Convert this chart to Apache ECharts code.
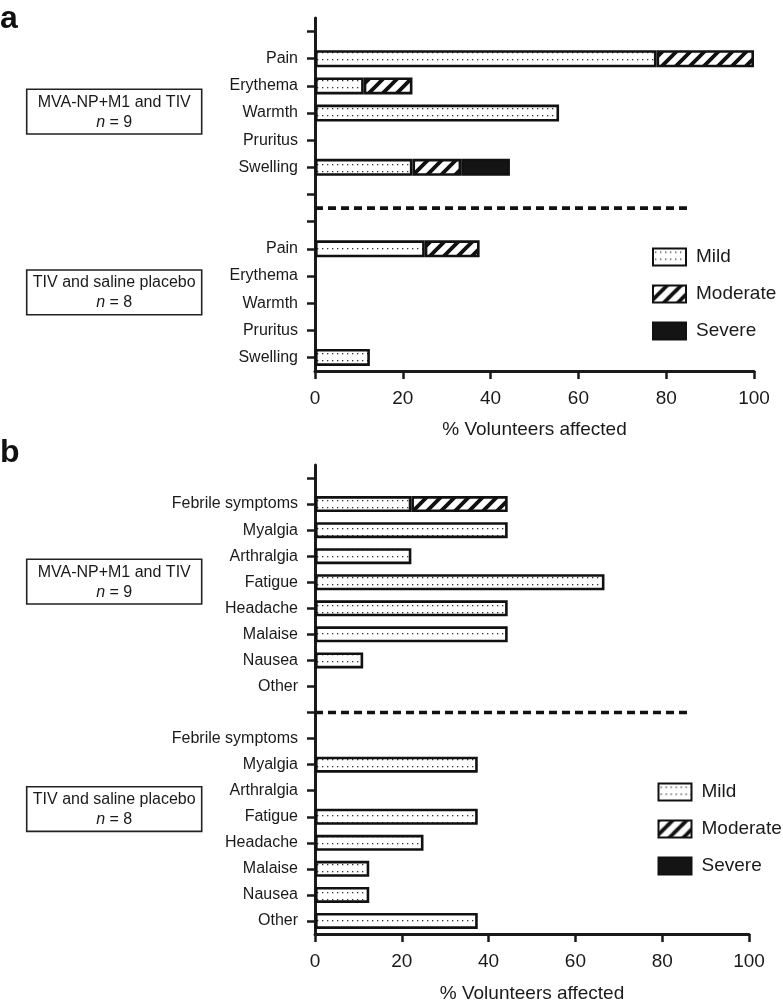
<!DOCTYPE html>
<html><head><meta charset="utf-8">
<script src="https://cdn.jsdelivr.net/npm/echarts@6/dist/echarts.min.js"></script>
<style>html,body{margin:0;padding:0;background:#fff}#c{width:783px;height:1004px}</style>
</head><body><div id="c"></div>
<script>
// ---------- DATA ----------
const localCats = ['Pain', 'Erythema', 'Warmth', 'Pruritus', 'Swelling'];
const localMVA_mild = [77.8, 11.1, 55.6, 0, 22.2];
const localMVA_mod  = [22.2, 11.1, 0, 0, 11.1];
const localMVA_sev  = [0, 0, 0, 0, 11.1];
const localTIV_mild = [25, 0, 0, 0, 12.5];
const localTIV_mod  = [12.5, 0, 0, 0, 0];
const localTIV_sev  = [0, 0, 0, 0, 0];

const sysCats = ['Febrile symptoms', 'Myalgia', 'Arthralgia', 'Fatigue', 'Headache', 'Malaise', 'Nausea', 'Other'];
const sysMVA_mild = [22.2, 44.4, 22.2, 66.7, 44.4, 44.4, 11.1, 0];
const sysMVA_mod  = [22.2, 0, 0, 0, 0, 0, 0, 0];
const sysMVA_sev  = [0, 0, 0, 0, 0, 0, 0, 0];
const sysTIV_mild = [0, 37.5, 0, 37.5, 25, 12.5, 12.5, 37.5];
const sysTIV_mod  = [0, 0, 0, 0, 0, 0, 0, 0];
const sysTIV_sev  = [0, 0, 0, 0, 0, 0, 0, 0];

const xTicks = [0, 20, 40, 60, 80, 100];
const severities = ['Mild', 'Moderate', 'Severe'];
const groupA = ['MVA-NP+M1 and TIV', 'n = 9'];
const groupB = ['TIV and saline placebo', 'n = 8'];
const axisName = '% Volunteers affected';
// dashed separator lines [x, y-position on the hidden index axis]
const sepA = [[0, 7], [85.5, 7]];
const sepB = [[0, 9.5], [86.3, 9.5]];

// ---------- assemble ----------
const catsA = [''].concat(localCats, ['', ''], localCats);
const catsB = [''].concat(sysCats, [''], sysCats);
const joinA = (a, b) => [0].concat(a, [0, 0], b);
const joinB = (a, b) => [0].concat(a, [0], b);
const aMild = joinA(localMVA_mild, localTIV_mild), aMod = joinA(localMVA_mod, localTIV_mod), aSev = joinA(localMVA_sev, localTIV_sev);
const bMild = joinB(sysMVA_mild, sysTIV_mild), bMod = joinB(sysMVA_mod, sysTIV_mod), bSev = joinB(sysMVA_sev, sysTIV_sev);

// ---------- patterns ----------
function dotPattern() {
  const c = document.createElement('canvas'); c.width = 5; c.height = 7;
  const g = c.getContext('2d');
  g.fillStyle = '#fff'; g.fillRect(0, 0, 5, 7);
  g.fillStyle = '#333'; g.fillRect(2, 3, 1.3, 1.3);
  return c;
}
function hatchPattern() {
  const s = 14;
  const c = document.createElement('canvas'); c.width = s; c.height = s;
  const g = c.getContext('2d');
  g.fillStyle = '#fff'; g.fillRect(0, 0, s, s);
  g.strokeStyle = '#111'; g.lineWidth = 3.8; g.lineCap = 'square';
  g.beginPath();
  g.moveTo(-2, s + 2); g.lineTo(s + 2, -2);
  g.moveTo(-3, 3); g.lineTo(3, -3);
  g.moveTo(s - 3, s + 3); g.lineTo(s + 3, s - 3);
  g.stroke();
  return c;
}
const fills = [
  { image: dotPattern(), repeat: 'repeat' },
  { image: hatchPattern(), repeat: 'repeat' },
  '#141414'
];

const FONT = "'Liberation Sans', Arial, Helvetica, sans-serif";
const INK = '#1a1a1a';

function bar(name, data, xi, yi, stack, fill, bw) {
  return {
    type: 'bar', name, xAxisIndex: xi, yAxisIndex: yi, stack, barWidth: bw,
    data: data.map(v => v === 0 ? '-' : v),
    itemStyle: { color: fill, borderColor: '#111', borderWidth: 2.6 },
    emphasis: { disabled: true }
  };
}
function sep(data, xi, yi) {
  return {
    type: 'line', xAxisIndex: xi, yAxisIndex: yi, data, symbol: 'none', silent: true,
    lineStyle: { color: '#111', width: 3.6, type: [8, 5] }
  };
}
function xAx(gi, gap) {
  return {
    type: 'value', gridIndex: gi, min: 0, max: 100, interval: 20, position: 'bottom',
    name: axisName, nameLocation: 'middle', nameGap: gap,
    nameTextStyle: { fontSize: 19, color: INK, fontFamily: FONT },
    axisLine: { show: true, onZero: false, lineStyle: { color: INK, width: 3 } },
    axisTick: { show: true, length: 8, lineStyle: { color: INK, width: 2.5 } },
    axisLabel: { fontSize: 19, color: INK, fontFamily: FONT, margin: 18,
      formatter: v => xTicks.indexOf(v) >= 0 ? String(v) : '' },
    splitLine: { show: false }
  };
}
function yCat(gi, cats) {
  return {
    type: 'category', gridIndex: gi, data: cats, inverse: true,
    axisLine: { show: true, onZero: false, lineStyle: { color: INK, width: 3 } },
    axisTick: { show: true, alignWithLabel: true, length: 8, lineStyle: { color: INK, width: 2.5 } },
    axisLabel: { fontSize: 16, color: INK, fontFamily: FONT, margin: 17, interval: 0 },
    splitLine: { show: false }
  };
}
function yIdx(gi, n) {
  return { type: 'value', gridIndex: gi, min: 0, max: n, inverse: true, show: false,
    axisLine: { onZero: false }, splitLine: { show: false } };
}
function legend(left, top) {
  return {
    data: severities, orient: 'vertical', left, top, icon: 'rect', padding: 0,
    itemWidth: 33, itemHeight: 17, itemGap: 18, selectedMode: false,
    textStyle: { fontSize: 19, color: INK, fontFamily: FONT, lineHeight: 17, padding: [0, 0, 0, 5] }
  };
}
function box(x, y, lines) {
  return {
    type: 'group', children: [
      { type: 'rect', shape: { x, y, width: 175, height: 44.7 }, style: { fill: '#fff', stroke: '#222', lineWidth: 1.6 } },
      { type: 'text', x: x + 87.5, y: y + 22.8, style: {
          text: lines[0] + '\n' + lines[1].replace(/^n/, '{i|n}'),
          rich: { i: { fontStyle: 'italic', fontSize: 16, fontFamily: FONT, fill: INK } },
          fontSize: 16, fontFamily: FONT, fill: INK, align: 'center', verticalAlign: 'middle', lineHeight: 20 } }
    ]
  };
}

const chart = echarts.init(document.getElementById('c'), null, { renderer: 'canvas' });
chart.setOption({
  animation: false,
  backgroundColor: '#fff',
  grid: [
    { left: 315, top: 18, width: 439, height: 353, containLabel: false, outerBoundsMode: 'none' },
    { left: 315, top: 465, width: 434, height: 469, containLabel: false, outerBoundsMode: 'none' }
  ],
  xAxis: [xAx(0, 49), xAx(1, 50)],
  yAxis: [yCat(0, catsA), yIdx(0, catsA.length), yCat(1, catsB), yIdx(1, catsB.length)],
  legend: [legend(652, 247.5), legend(657.5, 782.5)],
  series: [
    bar('Mild', aMild, 0, 0, 'a', fills[0], 17),
    bar('Moderate', aMod, 0, 0, 'a', fills[1], 17),
    bar('Severe', aSev, 0, 0, 'a', fills[2], 17),
    sep(sepA, 0, 1),
    bar('Mild', bMild, 1, 2, 'b', fills[0], 16),
    bar('Moderate', bMod, 1, 2, 'b', fills[1], 16),
    bar('Severe', bSev, 1, 2, 'b', fills[2], 16),
    sep(sepB, 1, 3)
  ],
  graphic: [
    { type: 'text', left: 0, top: 3, style: { text: 'a', fontSize: 32, fontWeight: 'bold', fontFamily: FONT, fill: '#111' } },
    { type: 'text', left: 0, top: 437, style: { text: 'b', fontSize: 32, fontWeight: 'bold', fontFamily: FONT, fill: '#111' } },
    box(26.7, 89.3, groupA),
    box(26.7, 270, groupB),
    box(26.7, 559.3, groupA),
    box(26.7, 786.7, groupB)
  ]
});
</script>
</body></html>
